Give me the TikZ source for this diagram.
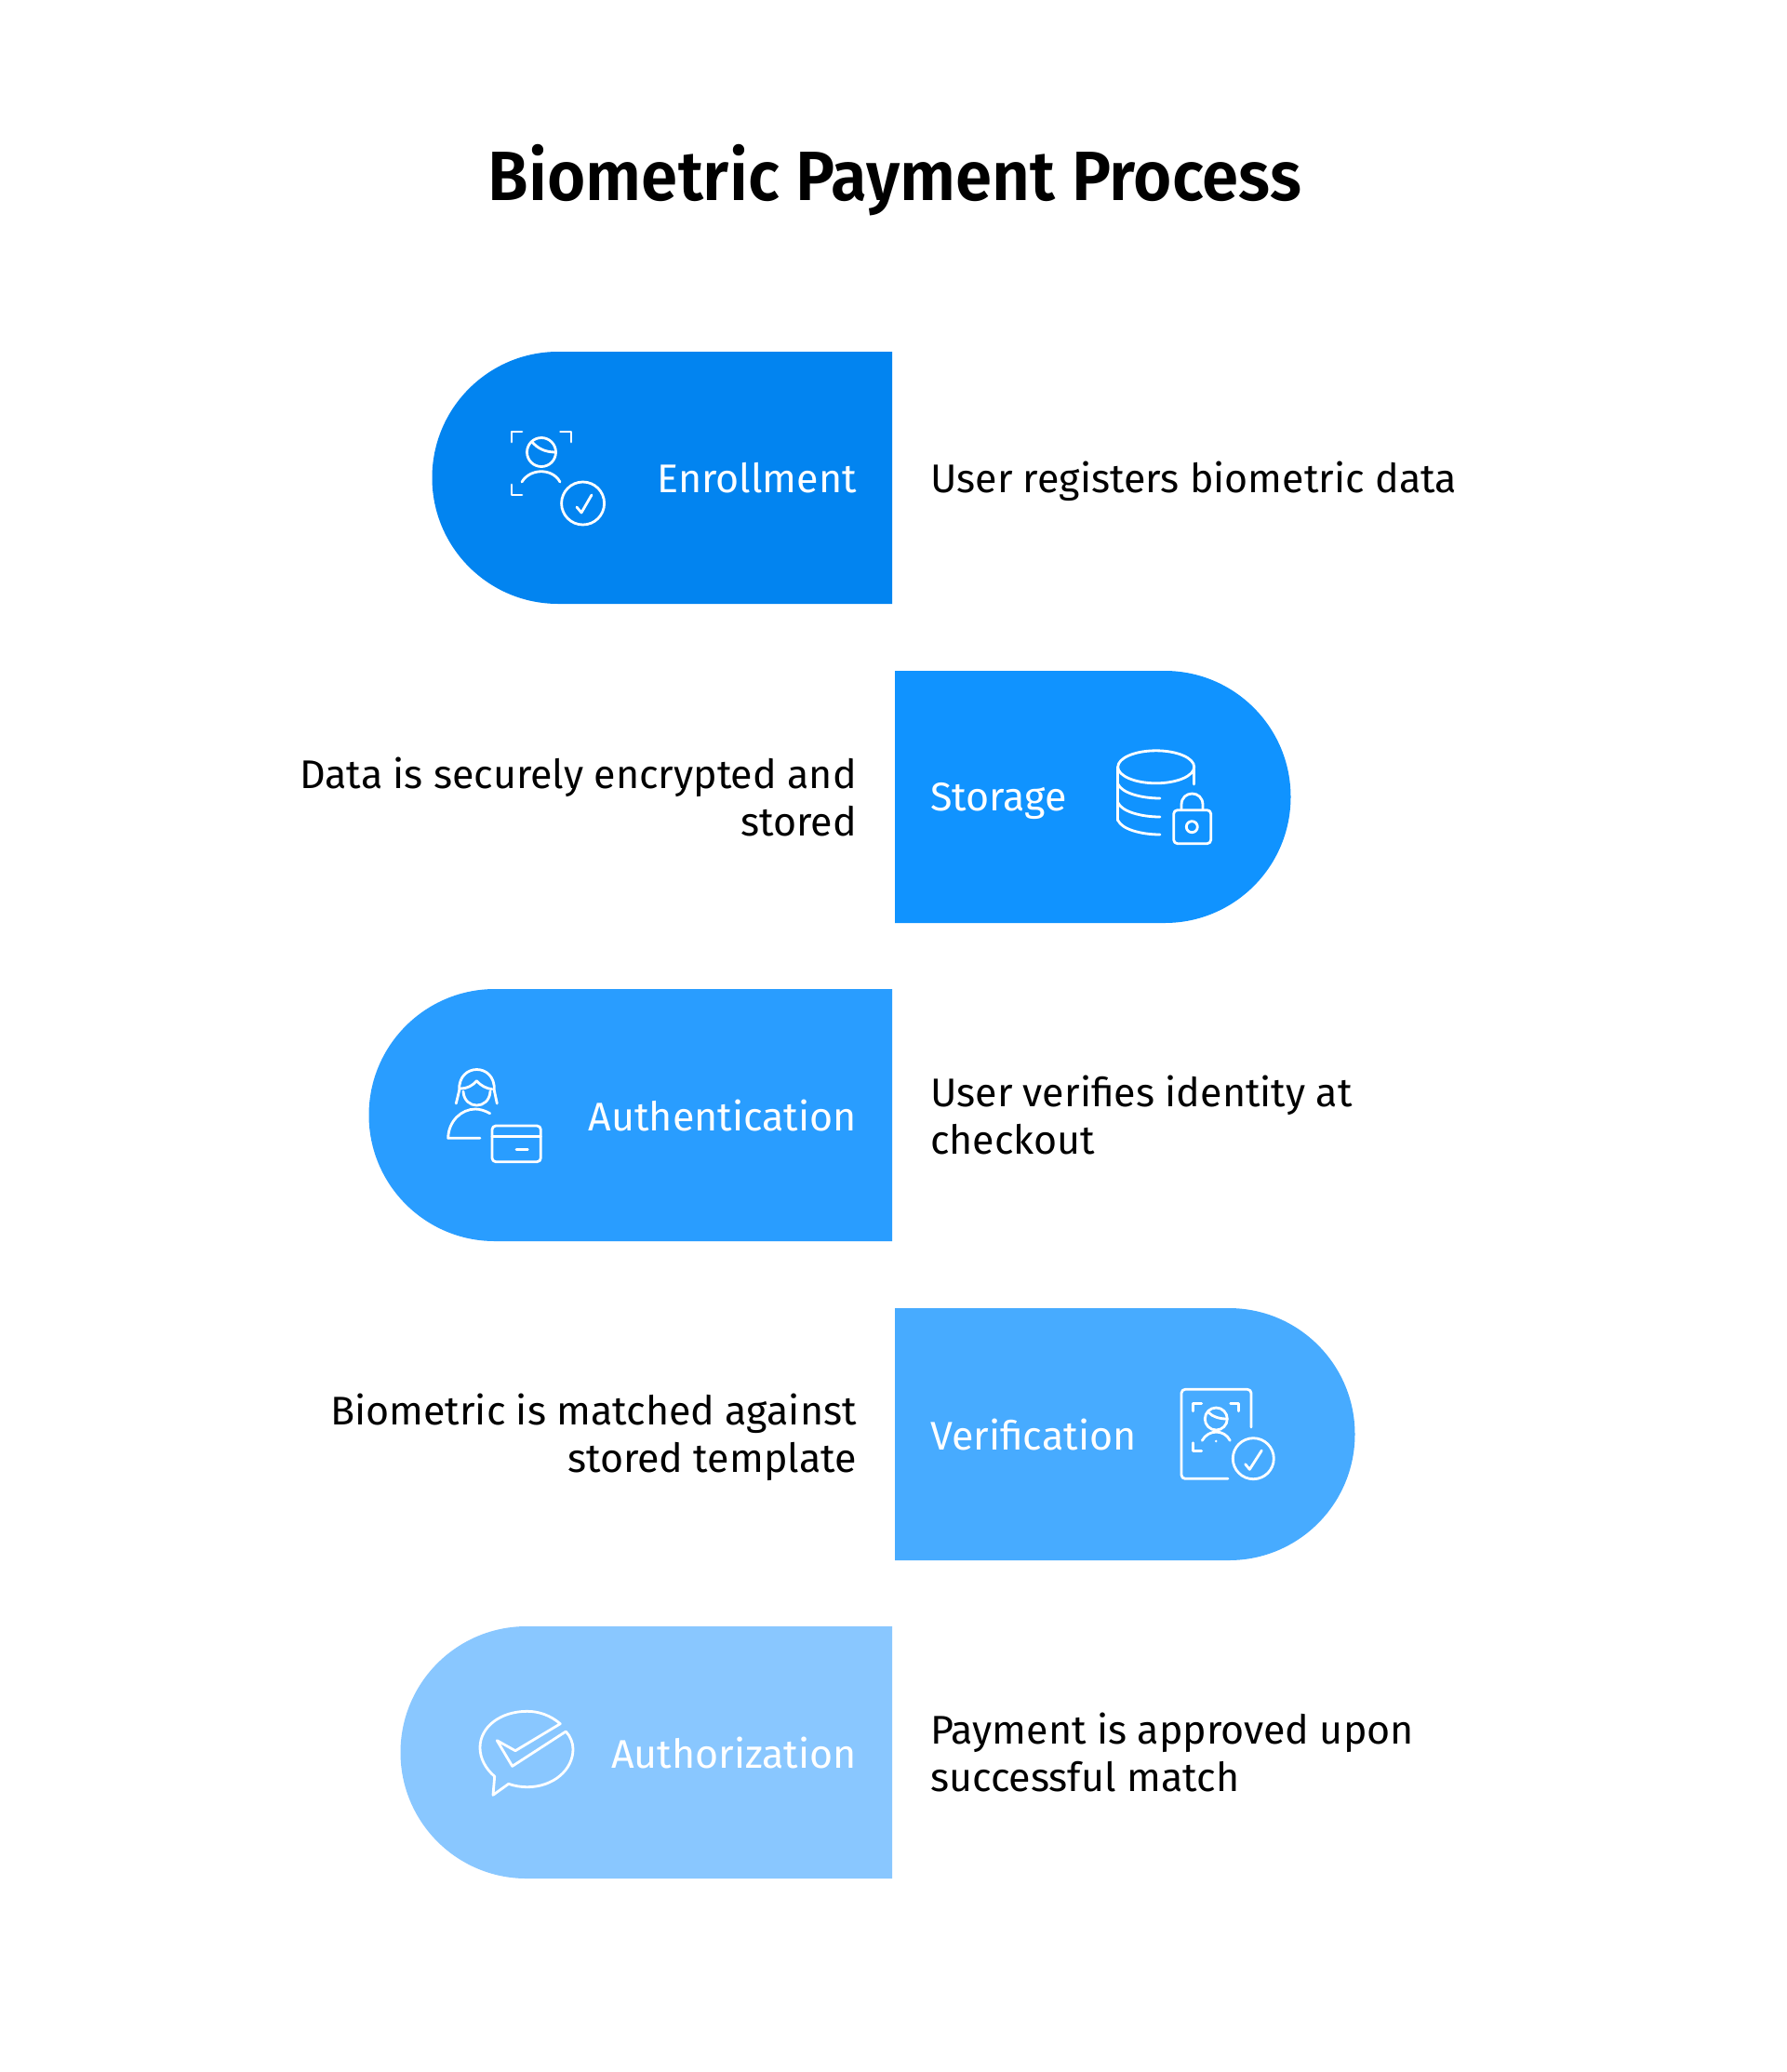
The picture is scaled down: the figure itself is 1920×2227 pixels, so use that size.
\documentclass[tikz,border=0pt]{standalone}
\usepackage{fontspec}
\setmainfont{Fira Sans}
\newfontfamily\titlefont[FakeStretch=0.945]{Fira Sans SemiBold}
\definecolor{enrollblue}{HTML}{0284F0}
\definecolor{storeblue}{HTML}{1093FF}
\definecolor{authblue}{HTML}{299DFF}
\definecolor{verifyblue}{HTML}{47ABFF}
\definecolor{permitblue}{HTML}{89C7FF}
\tikzset{
    pilltext/.style={text=white,inner sep=0pt,font=\fontsize{43}{51}\selectfont},
    desctext/.style={text=black,inner sep=0pt,font=\fontsize{43}{51}\selectfont},
    icon/.style={draw=white,line width=2.8pt,line cap=round,line join=round}
}
\begin{document}
\begin{tikzpicture}[x=1pt,y=-1pt]
    \useasboundingbox (-1,-1) rectangle (1919,2226);
    \node[text=black,inner sep=0pt,font=\titlefont\fontsize{75}{90}\selectfont] (title) at (961,193) {Biometric Payment Process};
    % pills
    \fill[enrollblue] (958,377) -- (599,377) arc[start angle=90,end angle=270,radius=135.5pt] -- (958,648) -- cycle;
    \fill[storeblue] (961,720) -- (1251,720) arc[start angle=90,end angle=-90,radius=135.5pt] -- (961,991) -- cycle;
    \fill[authblue] (958,1062) -- (531,1062) arc[start angle=90,end angle=270,radius=135.5pt] -- (958,1333) -- cycle;
    \fill[verifyblue] (961,1405) -- (1320,1405) arc[start angle=90,end angle=-90,radius=135.5pt] -- (961,1676) -- cycle;
    \fill[permitblue] (958,1747) -- (565,1747) arc[start angle=90,end angle=270,radius=135.5pt] -- (958,2018) -- cycle;
    % labels
    \node[pilltext,anchor=east] (enroll) at (920,513) {Enrollment};
    \node[pilltext,anchor=west] (store) at (999,860) {Storage};
    \node[pilltext,anchor=east] (authen) at (920,1198) {Authentication};
    \node[pilltext,anchor=west] (verify) at (999,1541) {Verification};
    \node[pilltext,anchor=east] (permit) at (920,1883) {Authorization};
    % descriptions
    \node[desctext,anchor=west] (enrolltext) at (999,516) {User registers biometric data};
    \node[desctext,anchor=east,align=right] (storetext) at (920,855) {Data is securely encrypted and\\stored};
    \node[desctext,anchor=west,align=left] (authentext) at (999,1197.5) {User verifies identity at\\checkout};
    \node[desctext,anchor=east,align=right] (verifytext) at (920,1543.5) {Biometric is matched against\\stored template};
    \node[desctext,anchor=west,align=left] (permittext) at (999,1882) {Payment is approved upon\\successful match};
    \begin{scope}[shift={(-1,-1)}]
    % enrollment icon
    \draw[icon] (561,464) -- (550,464) -- (550,475);
    \draw[icon] (602.5,464) -- (614,464) -- (614,475);
    \draw[icon] (561,532) -- (550,532) -- (550,521);
    \draw[icon] (582,486) circle (15.5pt);
    \draw[icon] (572,475) .. controls (578,482) and (586,486) .. (597,486);
    \draw[icon] (561,518) .. controls (570,503) and (594,503) .. (602,518);
    \draw[icon] (626.6,541) circle (23pt);
    \draw[icon] (620,545) -- (625,551) -- (636,532);
    % storage icon
    \draw[icon] (1242.7,824.3) ellipse (41pt and 17.5pt);
    \draw[icon] (1201.7,824.3) -- (1201.7,882);
    \draw[icon] (1283.7,824.3) -- (1283.7,843);
    \draw[icon] (1202,843) .. controls (1206,852) and (1226,858) .. (1247,858);
    \draw[icon] (1202,863) .. controls (1206,872) and (1226,878) .. (1247,878);
    \draw[icon] (1202,882) .. controls (1206,891) and (1226,897) .. (1247,897);
    \draw[icon,rounded corners=4pt] (1261.7,870.7) rectangle (1301.7,906.7);
    \draw[icon] (1270,870.7) -- (1270,865) .. controls (1270,849) and (1293,849) .. (1293,865) -- (1293,870.7);
    \draw[icon] (1281.3,888.7) circle (6pt);
    % authentication icon
    \draw[icon] (493.7,1172) .. controls (492,1142) and (533,1142) .. (531.3,1172);
    \draw[icon] (493.7,1172) -- (490.3,1186);
    \draw[icon] (531.3,1172) -- (534.3,1186);
    \draw[icon] (495,1170) .. controls (502,1170) and (508,1167) .. (512.3,1161.7) .. controls (517,1167) and (523,1170) .. (529,1170.7);
    \draw[icon] (498,1173) .. controls (499,1193) and (526,1193) .. (527,1173);
    \draw[icon] (516,1223.3) -- (481.7,1223.3) .. controls (482,1205) and (496,1192) .. (511,1192) .. controls (516,1192) and (522,1194) .. (526.7,1196.7);
    \draw[icon,rounded corners=4pt] (529,1210) rectangle (581.3,1248.7);
    \draw[icon] (529,1221.7) -- (581.3,1221.7);
    \draw[icon] (555,1235.3) -- (567.3,1235.3);
    % verification icon
    \draw[icon,rounded corners=4pt] (1345,1534) -- (1345,1493.3) -- (1270,1493.3) -- (1270,1589.3) -- (1320,1589.3);
    \draw[icon] (1291.7,1508.3) -- (1282.7,1508.3) -- (1282.7,1516.7);
    \draw[icon] (1322.7,1508.3) -- (1331.7,1508.3) -- (1331.7,1516.7);
    \draw[icon] (1291.7,1559.3) -- (1282.7,1559.3) -- (1282.7,1550.7);
    \draw[icon] (1307.3,1525) circle (12pt);
    \draw[icon] (1299.3,1518.3) .. controls (1304,1523) and (1311,1525) .. (1319.3,1525);
    \draw[icon] (1292.3,1548.3) .. controls (1299,1536) and (1316,1536) .. (1322.3,1548.3);
    \fill[white] (1307.3,1549) circle (1.4pt);
    \draw[icon] (1347.3,1567.7) circle (22pt);
    \draw[icon] (1338.7,1573.7) -- (1343.3,1579.3) -- (1356.3,1559);
    % authorization icon
    \draw[icon] (602.3,1852.7) .. controls (592,1844) and (580,1839.3) .. (566.7,1839.3)
        .. controls (538,1839.3) and (516,1856) .. (516,1878.3)
        .. controls (516,1890) and (522,1901) .. (531.7,1909.3)
        -- (530,1929.3) -- (546.7,1917.3)
        .. controls (553,1919.5) and (560,1920.7) .. (566.7,1920.7)
        .. controls (595,1920.7) and (616,1902) .. (616,1880)
        .. controls (616,1873) and (613,1866) .. (608.3,1861)
        -- (550.7,1898.3) -- (534.3,1870.7) -- (554,1881.7) -- cycle;
    \end{scope}
\end{tikzpicture}
\end{document}
